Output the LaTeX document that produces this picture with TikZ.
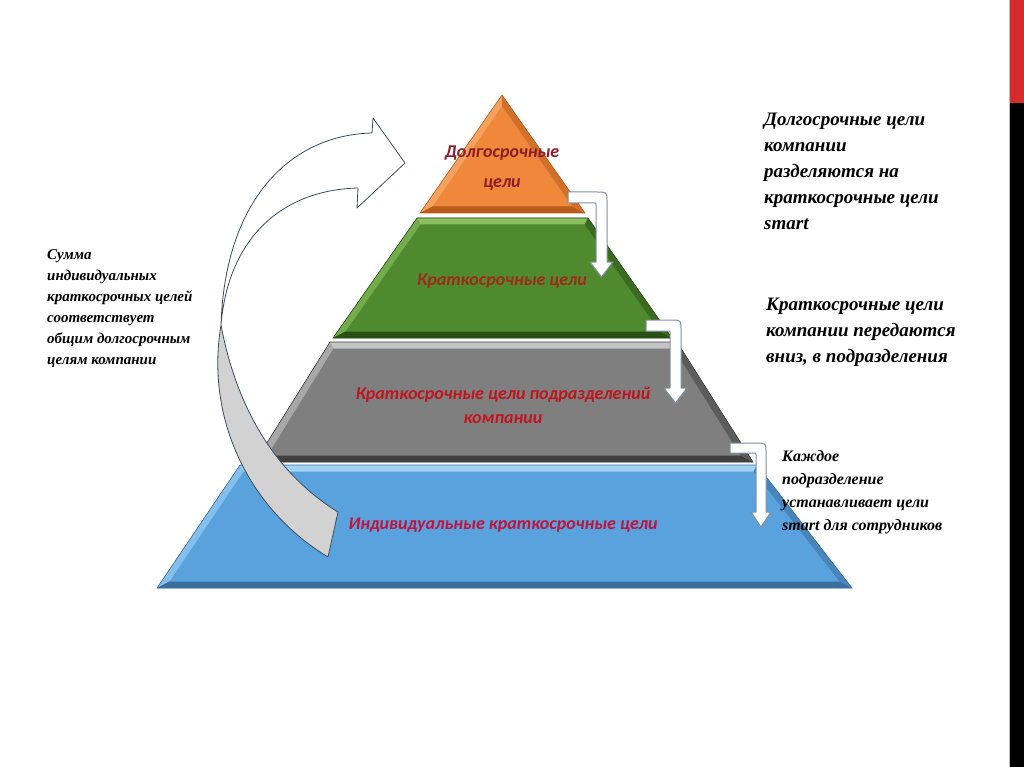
\documentclass[tikz,border=0pt]{standalone}
\usepackage{fontspec}
\setmainfont{Liberation Serif}
\newfontfamily\lblfont{Carlito}
\usetikzlibrary{calc}
\definecolor{orbase}{HTML}{F0883C}\definecolor{orlight}{HTML}{F8B478}\definecolor{ordark}{HTML}{B85C1C}
\definecolor{grbase}{HTML}{4F8B2E}\definecolor{grlight}{HTML}{8CC060}\definecolor{grdark}{HTML}{2A5016}
\definecolor{gybase}{HTML}{7F7F7F}\definecolor{gylight}{HTML}{C4C4C4}\definecolor{gydark}{HTML}{404040}
\definecolor{blbase}{HTML}{5AA2DE}\definecolor{bllight}{HTML}{A2D2F4}\definecolor{bldark}{HTML}{3A6E9E}
\definecolor{arrline}{HTML}{3C4C5C}\definecolor{arrgray}{HTML}{D2D2D2}
\definecolor{sarrline}{HTML}{7F8FA0}
\definecolor{lblA}{HTML}{8C1C28}\definecolor{lblB}{HTML}{9E2A1A}
\definecolor{lblC}{HTML}{C0141E}\definecolor{lblD}{HTML}{C0143C}
\definecolor{stripred}{HTML}{D62B2B}
\newcommand\pyrlayer[7]{%
  \coordinate (TL) at #1; \coordinate (TR) at #2;
  \coordinate (BR) at #3; \coordinate (BL) at #4;
  \coordinate (iTL) at ($(TL)+(3.4,6.5)$); \coordinate (iTR) at ($(TR)+(-3.4,6.5)$);
  \coordinate (iBR) at ($(BR)+(-12.4,-6.5)$); \coordinate (iBL) at ($(BL)+(12.4,-6.5)$);
  \fill[#5] (TL)--(TR)--(BR)--(BL)--cycle;
  \fill[#6] (TL)--(TR)--(iTR)--(iTL)--cycle;
  \fill[#6!60!#5] (TL)--(iTL)--(iBL)--(BL)--cycle;
  \fill[#7] (BL)--(iBL)--(iBR)--(BR)--cycle;
  \fill[#7!55!#5] (TR)--(BR)--(iBR)--(iTR)--cycle;
  \draw[#7,line width=0.6] (TL)--(TR)--(BR)--(BL)--cycle;
}
\begin{document}
\begin{tikzpicture}[x=1pt,y=-1pt,
  lbl/.style={font=\lblfont\fontsize{18}{24}\selectfont\bfseries\itshape,align=center,inner sep=0},
  note/.style={font=\fontsize{19}{26}\selectfont\bfseries\itshape,align=left,inner sep=0,anchor=north west},
  bigarrow/.style={draw=arrline,line width=0.8,line join=round},
  smallarrow/.style={draw=sarrline,fill=white,line width=1,line join=round}]
\useasboundingbox (0,0) rectangle (1024,767);
\fill[white] (0,0) rectangle (1024,767);
% right strip
\fill[stripred] (1010,0) rectangle (1024,103);
\fill[black] (1010,103) rectangle (1024,767);
\draw[gray!50,line width=0.6] (1009,0) -- (1009,767);
% layers
\pyrlayer{(240,465)}{(757,465)}{(852,588)}{(157,588)}{blbase}{bllight}{bldark}
\pyrlayer{(330,342)}{(677,342)}{(753,462)}{(255,462)}{gybase}{gylight}{gydark}
\pyrlayer{(417,218)}{(588,218)}{(672,338)}{(333,338)}{grbase}{grlight}{grdark}
% orange triangle
\coordinate (OA) at (502,95); \coordinate (OR) at (585,213); \coordinate (OL) at (420,213);
\coordinate (iOA) at (502,106); \coordinate (iOR) at (572.6,206.5); \coordinate (iOL) at (432.4,206.5);
\fill[orbase] (OA)--(OR)--(OL)--cycle;
\fill[orlight!60!orbase] (OA)--(iOA)--(iOL)--(OL)--cycle;
\fill[ordark] (OL)--(iOL)--(iOR)--(OR)--cycle;
\fill[ordark!55!orbase] (OA)--(OR)--(iOR)--(iOA)--cycle;
\draw[ordark,line width=0.6] (OA)--(OR)--(OL)--cycle;
% layer labels
\node[lbl,text=lblA] (l1) at (502,168) {Долгосрочные\\[6pt]цели};
\node[lbl,text=lblB] (l2) at (502,281) {Краткосрочные цели};
\node[lbl,text=lblC] (l3) at (503,405) {Краткосрочные цели подразделений\\компании};
\node[lbl,text=lblD] (l4) at (503,525) {Индивидуальные краткосрочные цели};
% big curved arrow
\fill[arrgray] (221,325) .. controls (205,420) and (250,510) .. (328,557)
  -- (338,512) .. controls (270,470) and (235,400) .. (221,325) -- cycle;
\draw[bigarrow] (221,325) .. controls (205,420) and (250,510) .. (328,557)
  -- (338,512) .. controls (270,470) and (235,400) .. (221,325);
\draw[bigarrow,fill=white] (372,133) .. controls (290,135) and (225,200) .. (221,325)
  .. controls (228,240) and (280,190) .. (358,188)
  -- (357,208) -- (405,163) -- (373,118) -- cycle;
% small bent arrows
\draw[smallarrow] (568,192) -- (597,192) .. controls (607,192) .. (607,202) -- (607,262)
  -- (613,262) -- (601.5,277) -- (590,262) -- (596,262) -- (596,205)
  .. controls (596,203) .. (594,203) -- (568,203) -- cycle;
\draw[smallarrow] (646,320) -- (671,320) .. controls (681,320) .. (681,330) -- (681,388)
  -- (687,388) -- (675.5,403) -- (664,388) -- (670,388) -- (670,333)
  .. controls (670,331) .. (668,331) -- (646,331) -- cycle;
\draw[smallarrow] (730,443) -- (756,443) .. controls (766,443) .. (766,453) -- (766,512)
  -- (771,512) -- (761,527) -- (751,512) -- (756,512) -- (756,455)
  .. controls (756,453) .. (754,453) -- (730,453) -- cycle;
% notes
\node[note] (n1) at (764,113) {Долгосрочные цели\\компании\\разделяются на\\краткосрочные цели\\smart};
\node[note] (n2) at (766,298) {Краткосрочные цели\\компании передаются\\вниз, в подразделения};
\node[note,font=\fontsize{16}{23}\selectfont\bfseries\itshape] (n3) at (782,450) {Каждое\\подразделение\\устанавливает цели\\smart для сотрудников};
\node[note,font=\fontsize{15}{21}\selectfont\bfseries\itshape] (n4) at (47,249) {Сумма\\индивидуальных\\краткосрочных целей\\соответствует\\общим долгосрочным\\целям компании};
\end{tikzpicture}
\end{document}
